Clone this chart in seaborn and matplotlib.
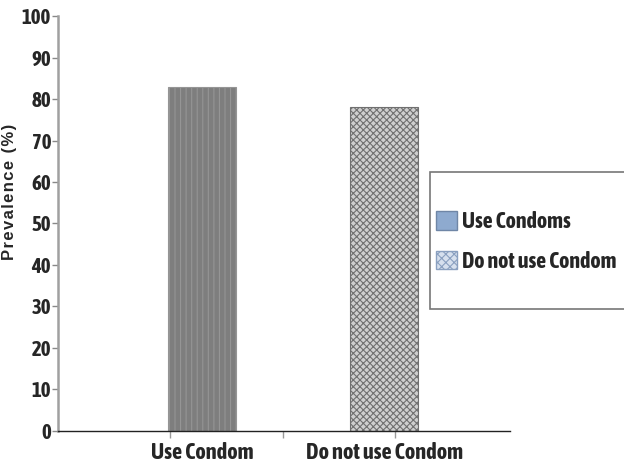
import matplotlib
matplotlib.use('Agg')
import matplotlib.pyplot as plt
from matplotlib import font_manager
from matplotlib.patches import Patch, Rectangle
import seaborn as sns
import pandas as pd

groups = ['Use Condom', 'Do not use Condom']
prevalence = [83, 78]
legend_labels = ['Use Condoms', 'Do not use Condom']

sns.set_style('white')

# look for a narrow face that has a bold weight
narrow = None
for f in font_manager.fontManager.ttflist:
    w = f.weight if isinstance(f.weight, int) else (700 if f.weight == 'bold' else 400)
    if ('Narrow' in f.name or 'Condensed' in f.name) and w >= 700:
        narrow = f.name
        break
families = [narrow] if narrow else []
families += ['Liberation Sans', 'DejaVu Sans']
plt.rcParams['font.family'] = families
plt.rcParams['hatch.linewidth'] = 0.8

df = pd.DataFrame({'group': groups, 'prevalence': prevalence})

fig = plt.figure(figsize=(6.24, 4.72), dpi=100)
ax = fig.add_axes([0.093, 0.087, 0.724, 0.879])

sns.barplot(data=df, x='group', y='prevalence', ax=ax, width=0.37,
            color='#7f7f7f', saturation=1)
bars = ax.patches
bars[0].set_facecolor('#7e7e7e')
bars[0].set_edgecolor('#959595')
bars[0].set_hatch('|||')
bars[0].set_linewidth(0.8)
bars[1].set_facecolor('#cfcfcf')
bars[1].set_edgecolor('#707070')
bars[1].set_hatch('xxxxx')
bars[1].set_linewidth(0.8)

tick_size = 15 if narrow else 14
lab_size = 16 if narrow else 12
leg_size = 15.8 if narrow else 12

ax.set_xlim(-0.79, 1.69)
ax.set_ylim(0, 100)
ax.set_yticks(range(0, 101, 10))
ax.tick_params(axis='y', labelsize=tick_size, length=4, width=1, color='#888888', pad=1,
               direction='out', left=True)
for lbl in ax.get_yticklabels():
    lbl.set_fontweight('bold')

ax.set_xticks([0, 1])
ax.set_xticklabels(groups, fontsize=lab_size, fontweight='bold')
ax.tick_params(axis='x', length=0, pad=8)
ax.set_xticks([-0.176, 0.445, 1.06], minor=True)
ax.tick_params(axis='x', which='minor', length=5, width=1, color='#999999', direction='out', bottom=True)
ax.set_xlabel('')
# slightly spaced letters like the reference
ax.set_ylabel('\u200a'.join('Prevalence (%)'), fontsize=12, fontweight='bold',
              family=['Liberation Sans', 'DejaVu Sans'])
ax.yaxis.set_label_coords(-0.09, 0.576)

sns.despine(ax=ax)
ax.spines['left'].set_color('#a0a0a0')
ax.spines['left'].set_linewidth(1.8)
ax.spines['bottom'].set_color('#222222')
ax.spines['bottom'].set_linewidth(1)

# legend box as in the reference: 172..309 px down, running past the right edge
box = Rectangle((430 / 624, 1 - 309 / 472), 0.4, 137 / 472, transform=fig.transFigure,
                facecolor='white', edgecolor='#777777', linewidth=1.2, zorder=5)
fig.patches.append(box)

handles = [Patch(facecolor='#8eaacf', edgecolor='#6f86a6'),
           Patch(facecolor='#d6e0ee', edgecolor='#8aa0c0', hatch='xxxx')]
leg = fig.legend(handles, legend_labels, loc='upper left',
                 bbox_to_anchor=(436 / 624, 1 - 211 / 472), frameon=False,
                 fontsize=leg_size, handlelength=0.95, handleheight=0.95, handletextpad=0.25,
                 labelspacing=0.8, borderpad=0, borderaxespad=0)
leg.set_zorder(6)
for t in leg.get_texts():
    t.set_fontweight('bold')

plt.savefig('out.png', dpi=100)
